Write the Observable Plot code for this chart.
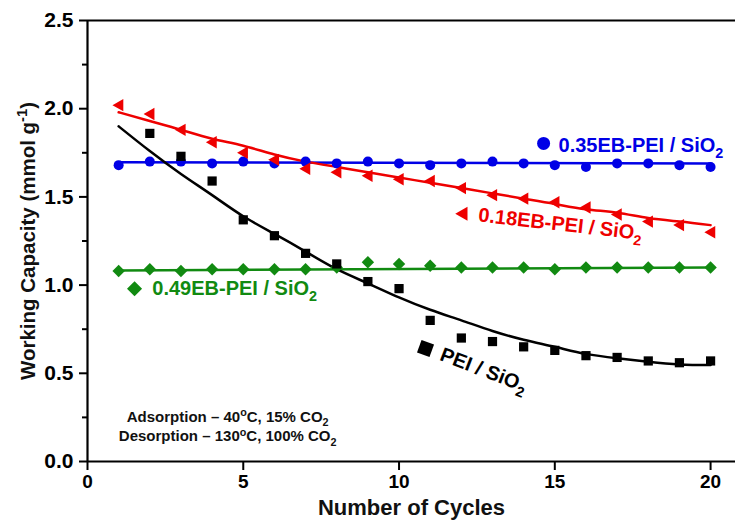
<!DOCTYPE html>
<html><head><meta charset="utf-8">
<script src="https://cdn.jsdelivr.net/npm/d3@7"></script>
<script src="https://cdn.jsdelivr.net/npm/@observablehq/plot@0.6"></script>
<style>
body{margin:0;background:#fff;}
#chart svg{display:block;}
</style></head><body><div id="chart"></div>
<script>
// ---- data ----
const cycles = [1,2,3,4,5,6,7,8,9,10,11,12,13,14,15,16,17,18,19,20];
const peiSiO2  = [null,1.86,1.73,1.59,1.37,1.28,1.18,1.12,1.02,0.98,0.80,0.70,0.68,0.65,0.63,0.60,0.59,0.57,0.56,0.57];
const eb018    = [2.02,1.97,1.88,1.81,1.75,1.71,1.66,1.64,1.62,1.60,1.59,1.55,1.51,1.49,1.47,1.44,1.40,1.36,1.34,1.30];
const eb035    = [1.68,1.70,1.70,1.69,1.70,1.69,1.70,1.69,1.70,1.69,1.68,1.69,1.70,1.69,1.68,1.67,1.69,1.69,1.68,1.67];
const eb049    = [1.08,1.09,1.08,1.09,1.09,1.09,1.09,1.10,1.13,1.12,1.11,1.10,1.10,1.10,1.09,1.10,1.10,1.10,1.10,1.10];
// fitted curves
const peiFit   = [1.90,1.76,1.63,1.51,1.39,1.29,1.19,1.09,1.01,0.93,0.86,0.80,0.74,0.69,0.65,0.61,0.585,0.565,0.55,0.547];
const eb018Fit = [1.98,1.93,1.88,1.83,1.79,1.74,1.70,1.67,1.64,1.61,1.58,1.55,1.52,1.49,1.46,1.43,1.41,1.38,1.36,1.34];
const linFitX  = [1,20];
const eb035Fit = [1.697,1.69];
const eb049Fit = [1.083,1.10];
const xTicks = [0,5,10,15,20];
const yTicks = [0,0.5,1.0,1.5,2.0,2.5];
const yMinor = [0.25,0.75,1.25,1.75,2.25];
const seriesNames = ["PEI / SiO_{2}","0.18EB-PEI / SiO_{2}","0.35EB-PEI / SiO_{2}","0.49EB-PEI / SiO_{2}"];
const notes = ["Adsorption – 40^{o}C, 15% CO_{2}","Desorption – 130^{o}C, 100% CO_{2}"];

// ---- styling ----
const FONT = "'Liberation Sans', Arial, Helvetica, sans-serif";
const colors = {pei:"#000000", r:"#ee0000", b:"#0000e6", g:"#118a11"};
const triLeft = {draw(ctx, size){const r=Math.sqrt(size/Math.PI); ctx.moveTo(-r,0); ctx.lineTo(0.75*r,-r); ctx.lineTo(0.75*r,r); ctx.closePath();}};
const squareTilt = {draw(ctx, size){const h=Math.sqrt(size)/2, a=20*Math.PI/180, c=Math.cos(a), s=Math.sin(a);
  const pts=[[-h,-h],[h,-h],[h,h],[-h,h]].map(([x,y])=>[x*c-y*s,x*s+y*c]);
  ctx.moveTo(...pts[0]); for(let i=1;i<4;i++) ctx.lineTo(...pts[i]); ctx.closePath();}};

const mk = (ys) => cycles.map((c,i)=>({x:c,y:ys[i]})).filter(d=>d.y!=null);
const mkFit = (xs, ys) => xs.map((c,i)=>({x:c,y:ys[i]}));

// annotation anchors (data units)
const legend = [
  {name:seriesNames[2], mx:14.64, my:1.803, tx:15.12, ty:1.790, rot:0,   col:colors.b, sym:"circle", r:6.5},
  {name:seriesNames[1], mx:12.03, my:1.404, tx:12.55, ty:1.398, rot:6.5, col:colors.r, sym:triLeft, r:7},
  {name:seriesNames[3], mx:1.51,  my:0.979, tx:2.08,  ty:0.981, rot:0,   col:colors.g, sym:"diamond2", r:6.8},
  {name:seriesNames[0], mx:10.85, my:0.641, tx:11.35, ty:0.611, rot:21,  col:colors.pei, sym:squareTilt, r:7.5}
];

const chart = Plot.plot({
  width:735, height:530,
  marginLeft:87, marginRight:0, marginTop:20, marginBottom:69,
  style:{fontFamily:FONT, fontWeight:"bold", background:"#fff", overflow:"visible"},
  x:{domain:[0,20.8]},
  y:{domain:[0,2.5]},
  marks:[
    Plot.ruleY([2.5],{strokeWidth:2}),
    Plot.axisY({ticks:yMinor, tickSize:5, tickFormat:()=>"", strokeWidth:2, label:null}),
    Plot.axisY({ticks:yTicks, tickSize:8, tickPadding:6, tickFormat:d3.format(".1f"), strokeWidth:2, fontSize:21, label:null, fill:"#000"}),
    Plot.axisX({ticks:xTicks, tickSize:9, tickPadding:4, strokeWidth:2, fontSize:19, label:null, fill:"#000"}),
    Plot.ruleX([0],{strokeWidth:2.2}),
    Plot.ruleY([0],{strokeWidth:2.2}),
    // fits
    Plot.line(mkFit(linFitX,eb035Fit),{x:"x",y:"y",stroke:colors.b,strokeWidth:2.5}),
    Plot.line(mkFit(linFitX,eb049Fit),{x:"x",y:"y",stroke:colors.g,strokeWidth:2.5}),
    Plot.line(mkFit(cycles,eb018Fit),{x:"x",y:"y",stroke:colors.r,strokeWidth:2.5,curve:"natural"}),
    Plot.line(mkFit(cycles,peiFit),{x:"x",y:"y",stroke:colors.pei,strokeWidth:2.5,curve:"natural"}),
    // data
    Plot.dot(mk(eb049),{x:"x",y:"y",symbol:"diamond2",r:5.6,fill:colors.g}),
    Plot.dot(mk(eb035),{x:"x",y:"y",symbol:"circle",r:5,fill:colors.b}),
    Plot.dot(mk(eb018),{x:"x",y:"y",symbol:triLeft,r:6.2,fill:colors.r}),
    Plot.dot(mk(peiSiO2),{x:"x",y:"y",symbol:"square",r:5.2,fill:colors.pei}),
    // legend markers and labels
    ...legend.map(l=>Plot.dot([l],{x:"mx",y:"my",symbol:()=>l.sym,r:l.r,fill:l.col})),
    ...legend.map(l=>Plot.text([l],{x:"tx",y:"ty",text:"name",fill:l.col,fontSize:20,fontWeight:"bold",textAnchor:"start",rotate:l.rot})),
    // conditions note
    Plot.text([{t:notes[0],x:4.5,y:0.254},{t:notes[1],x:4.5,y:0.141}],{x:"x",y:"y",text:"t",fontSize:15,fontWeight:"bold",fill:"#111"}),
    // axis titles
    Plot.text(["Number of Cycles"],{frameAnchor:"bottom",dy:53,fontSize:22,fontWeight:"bold",fill:"#111"}),
    Plot.text(["Working Capacity (mmol g^{-1})"],{frameAnchor:"left",textAnchor:"middle",dx:-59,rotate:-90,fontSize:20.5,fontWeight:"bold",fill:"#111"})
  ]
});

// turn _{..} and ^{..} into real sub/superscripts
function richify(svg){
  const NS="http://www.w3.org/2000/svg";
  svg.querySelectorAll("text").forEach(t=>{
    const s=t.textContent;
    if(!/[_^]\{/.test(s)) return;
    while(t.firstChild) t.removeChild(t.firstChild);
    const re=/([_^])\{([^}]*)\}/g; let last=0, m, back=null;
    const add=(txt,dy,small)=>{const sp=document.createElementNS(NS,"tspan"); sp.textContent=txt; if(dy) sp.setAttribute("dy",dy); if(small) sp.setAttribute("font-size","72%"); t.appendChild(sp);};
    while((m=re.exec(s))){
      if(m.index>last){ add(s.slice(last,m.index), back, false); back=null; }
      if(m[1]==="_"){ add(m[2],"0.4em",true); back=(-0.4*0.72).toFixed(3)+"em"; }
      else { add(m[2],"-0.55em",true); back=(0.55*0.72).toFixed(3)+"em"; }
      last=re.lastIndex;
    }
    if(last<s.length) add(s.slice(last), back, false);
  });
}
richify(chart);
document.getElementById("chart").append(chart);
</script></body></html>
